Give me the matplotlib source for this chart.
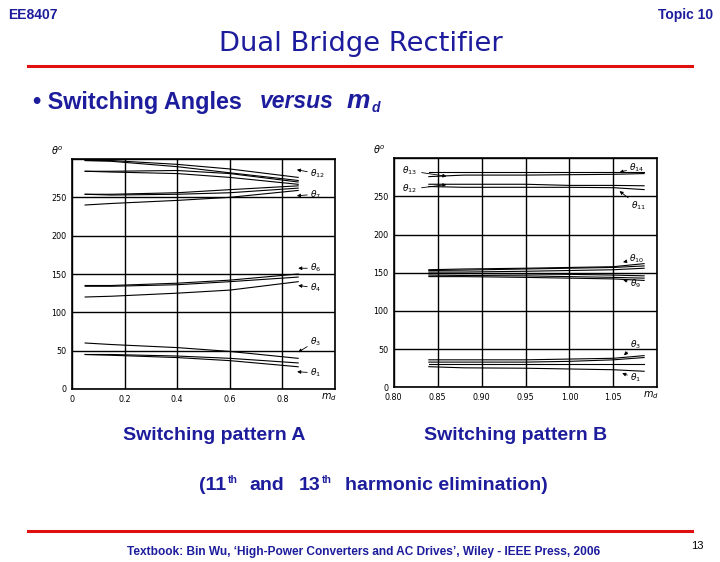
import matplotlib
matplotlib.use("Agg")
import matplotlib.pyplot as plt

# ── Pattern A: switching angles (deg) vs modulation index m_d ────────────────
MD_A = [0.05, 0.15, 0.40, 0.60, 0.86]
A_UPPER = [
    [298, 298, 293, 287, 276],
    [298, 297, 290, 282, 272],
    [284, 284, 285, 281, 270],
    [284, 283, 281, 276, 267],
    [254, 254, 256, 260, 265],
    [254, 253, 254, 256, 262],
    [240, 242, 246, 250, 259],
]
A_MIDDLE = [
    [135, 135, 138, 142, 150],
    [134, 134, 136, 140, 146],
    [120, 121, 125, 129, 140],
]
A_LOWER = [
    [60, 58, 54, 49, 40],
    [45, 45, 43, 40, 34],
    [45, 44, 41, 37, 29],
]
A_XTICKS = [0, 0.2, 0.4, 0.6, 0.8]
A_XLABELS = ["0", "0.2", "0.4", "0.6", "0.8"]

# ── Pattern B ────────────────────────────────────────────────────────────────
MD_B = [0.84, 0.88, 0.95, 1.00, 1.05, 1.085]
B_UPPER = [
    [282, 282, 282, 282, 282, 282],
    [276, 278, 278, 278.5, 279, 280],
    [266, 266, 266, 264.5, 264.5, 264],
    [263, 262, 262, 262, 261.5, 259],
]
B_MIDDLE = [
    [154, 155, 156, 157, 158, 162],
    [153, 153.5, 155, 156, 157, 159],
    [151, 151, 152, 153, 154, 156],
    [149, 149, 148.5, 148, 147, 146],
    [147, 146.5, 146, 145, 144, 143],
    [145, 145, 144, 143, 142, 140],
]
B_LOWER = [
    [36, 36, 36, 37, 38, 41.5],
    [33, 33, 33, 34, 36, 39],
    [31, 31, 31, 31, 31, 31],
    [27, 25.5, 25, 24, 23, 21],
]
B_XTICKS = [0.80, 0.85, 0.90, 0.95, 1.00, 1.05]
B_XLABELS = ["0.80", "0.85", "0.90", "0.95", "1.00", "1.05"]

Y_TICKS = [0, 50, 100, 150, 200, 250]

BLUE = "#1c1c9c"
RED = "#e01010"

W, H = 720, 562


def px(x, y):
    return x / W, 1 - y / H


def setup_axes(ax, xlim, xticks, xlabels):
    ax.set_xlim(*xlim)
    ax.set_ylim(0, 300)
    ax.set_xticks(list(xticks) + [xlim[1]])
    ax.set_xticklabels(list(xlabels) + [""])
    ax.set_yticks(Y_TICKS + [300])
    ax.set_yticklabels([str(v) for v in Y_TICKS] + [""])
    ax.grid(True, color="black", linewidth=1.0)
    ax.set_axisbelow(True)
    ax.tick_params(length=0, labelsize=5.8, pad=4)
    for s in ax.spines.values():
        s.set_linewidth(1.2)
    ax.text(-0.055, 1.01, r"$\theta^o$", transform=ax.transAxes,
            fontsize=7, ha="center", va="bottom")
    ax.text(0.975, -0.035, r"$m_d$", transform=ax.transAxes,
            fontsize=7, ha="center", va="center")


def label(ax, name, xy, xytext):
    ax.annotate(name, xy=xy, xytext=xytext, fontsize=6.5, va="center", ha="left",
                arrowprops=dict(arrowstyle="-|>", lw=0.6, color="black",
                                mutation_scale=5, shrinkA=0, shrinkB=0),
                annotation_clip=False)


fig = plt.figure(figsize=(7.2, 5.62), dpi=100, facecolor="white")

# ── Chart A ──────────────────────────────────────────────────────────────────
axA = fig.add_axes([72 / W, 1 - 389 / H, 263 / W, 230 / H])
setup_axes(axA, (0, 1.0), A_XTICKS, A_XLABELS)
for grp in (A_UPPER, A_MIDDLE, A_LOWER):
    for vals in grp:
        axA.plot(MD_A, vals, color="black", lw=0.8)
label(axA, r"$\theta_{12}$", (0.855, 286), (0.905, 281))
label(axA, r"$\theta_7$", (0.855, 252), (0.905, 254))
label(axA, r"$\theta_6$", (0.86, 157.5), (0.905, 157.5))
label(axA, r"$\theta_4$", (0.86, 135), (0.905, 132))
label(axA, r"$\theta_3$", (0.86, 48), (0.905, 62))
label(axA, r"$\theta_1$", (0.856, 22.5), (0.905, 21))

# ── Chart B ──────────────────────────────────────────────────────────────────
axB = fig.add_axes([393.7 / W, 1 - 387.3 / H, 263.6 / W, 229 / H])
setup_axes(axB, (0.80, 1.10), B_XTICKS, B_XLABELS)
for grp in (B_UPPER, B_MIDDLE, B_LOWER):
    for vals in grp:
        axB.plot(MD_B, vals, color="black", lw=0.8)
label(axB, r"$\theta_{14}$", (1.057, 281.5), (1.068, 288))
label(axB, r"$\theta_{11}$", (1.057, 257), (1.070, 238))
label(axB, r"$\theta_{10}$", (1.061, 164), (1.068, 168))
label(axB, r"$\theta_9$", (1.061, 141), (1.069, 136))
label(axB, r"$\theta_3$", (1.062, 42), (1.069, 56))
label(axB, r"$\theta_1$", (1.060, 18.5), (1.069, 12))
axB.annotate(r"$\theta_{13}$", xy=(0.860, 276.5), xytext=(0.810, 283.5),
             fontsize=6.5, va="center", ha="left",
             arrowprops=dict(arrowstyle="-|>", lw=0.6, color="black",
                             mutation_scale=5, shrinkA=1, shrinkB=0))
axB.annotate(r"$\theta_{12}$", xy=(0.860, 265.5), xytext=(0.810, 259.5),
             fontsize=6.5, va="center", ha="left",
             arrowprops=dict(arrowstyle="-|>", lw=0.6, color="black",
                             mutation_scale=5, shrinkA=1, shrinkB=0))

# ── Slide decorations ────────────────────────────────────────────────────────
bold = dict(family="Liberation Sans", weight="bold", color=BLUE)
fig.text(*px(8, 15), "EE8407", fontsize=10, ha="left", va="center", **bold)
fig.text(*px(713, 15), "Topic 10", fontsize=10, ha="right", va="center", **bold)
fig.text(*px(361, 44), "Dual Bridge Rectifier", fontsize=19.7, ha="center",
         va="center", family="DejaVu Sans", color=BLUE)
for yy in (66, 531):
    fig.add_artist(plt.Line2D([28 / W, 692 / W], [1 - yy / H] * 2,
                              color=RED, lw=2.2, transform=fig.transFigure))

fig.text(*px(33, 102), "\u2022 Switching Angles", fontsize=16.8, ha="left",
         va="center", **bold)
fig.text(*px(260, 102), "versus", fontsize=16.5, ha="left", va="center",
         style="italic", **bold)
fig.text(*px(347, 101), "m", fontsize=19, ha="left", va="center",
         style="italic", **bold)
fig.text(*px(372, 108), "d", fontsize=10, ha="left", va="center",
         style="italic", **bold)

fig.text(*px(214, 436), "Switching pattern A", fontsize=14, ha="center",
         va="center", **bold)
fig.text(*px(516, 436), "Switching pattern B", fontsize=14, ha="center",
         va="center", **bold)

fig.text(*px(199, 485), "(11", fontsize=14, ha="left", va="center", **bold)
fig.text(*px(228, 480), "th", fontsize=7.5, ha="left", va="center", **bold)
fig.text(*px(249, 485), "and", fontsize=14, ha="left", va="center", **bold)
fig.text(*px(299, 485), "13", fontsize=14, ha="left", va="center", **bold)
fig.text(*px(322, 480), "th", fontsize=7.5, ha="left", va="center", **bold)
fig.text(*px(345, 485), "harmonic elimination)", fontsize=14, ha="left",
         va="center", **bold)

fig.text(*px(364, 552), "Textbook: Bin Wu, \u2018High-Power Converters and AC Drives\u2019, "
         "Wiley - IEEE Press, 2006", fontsize=8.6, ha="center", va="center", **bold)
fig.text(*px(697, 546), "13", fontsize=8, ha="center", va="center",
         family="Liberation Sans", color="black")

fig.savefig("out.png", dpi=100, facecolor="white")
